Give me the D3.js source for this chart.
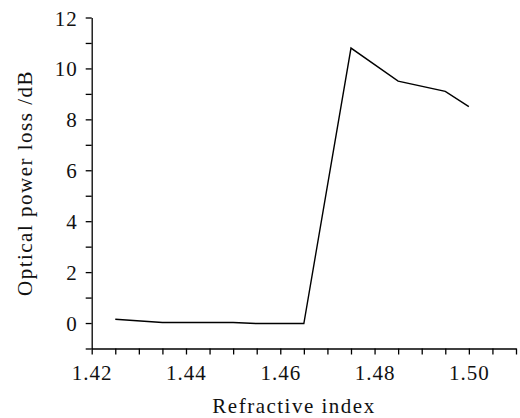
<!DOCTYPE html>
<html>
<head>
    <meta charset="utf-8">
    <style>
        body { margin: 0; background: white; }
        svg { display: block; font-family: 'Liberation Serif', 'Times New Roman', serif; }
        .axis path, .axis line { stroke: black; stroke-width: 1.3; }
        .axis text { fill: #111; letter-spacing: 1px; }
        .title { font-size: 21px; fill: #111; letter-spacing: 1.5px; }
    </style>
</head>
<body>
    <svg width="520" height="418"></svg>
</body>
<script src="https://d3js.org/d3.v7.min.js"></script>
<script>
    // values
    let refractiveIndex = [1.425, 1.435, 1.445, 1.450, 1.455, 1.465, 1.475, 1.485, 1.495, 1.500]
    let powerLoss = [0.15, 0.02, 0.02, 0.02, -0.02, -0.02, 10.8, 9.5, 9.1, 8.5]

    let xTicks = d3.range(0, 19).map(i => +(1.42 + i * 0.005).toFixed(3))
    let xLabels = [1.42, 1.44, 1.46, 1.48, 1.50]
    let yTicks = d3.range(-1, 13)
    let yLabels = [0, 2, 4, 6, 8, 10, 12]

    let serif = "'Liberation Serif', 'Times New Roman', serif"

    let svg = d3.select("svg")

    let x = d3.scaleLinear()
        .domain([1.42, 1.51])
        .range([91.7, 516])

    let y = d3.scaleLinear()
        .domain([-1, 12])
        .range([348.5, 17.5])

    // x axis
    let xAxis = svg.append("g")
        .attr("class", "axis")
        .attr("transform", "translate(0," + y(-1) + ")")
        .call(d3.axisBottom(x)
            .tickValues(xTicks)
            .tickSize(6)
            .tickPadding(11)
            .tickSizeOuter(0)
            .tickFormat(d => xLabels.some(v => Math.abs(v - d) < 1e-9) ? d3.format(".2f")(d) : ""))
        .attr("font-family", serif)
        .attr("font-size", 21)

    // y axis
    let yAxis = svg.append("g")
        .attr("class", "axis")
        .attr("transform", "translate(" + x(1.42) + ",0)")
        .call(d3.axisLeft(y)
            .tickValues(yTicks)
            .tickSize(6)
            .tickPadding(8)
            .tickSizeOuter(0)
            .tickFormat(d => yLabels.includes(d) ? d : ""))
        .attr("font-family", serif)
        .attr("font-size", 21)

    yAxis.selectAll("text").attr("dy", "0.36em")

    let line = d3.line()
        .x((d, i) => x(refractiveIndex[i]))
        .y(d => y(d))

    svg.append("path")
        .datum(powerLoss)
        .attr("d", line)
        .style("fill", "none")
        .style("stroke", "black")
        .style("stroke-width", 1.4)

    svg.append("text")
        .attr("class", "title")
        .attr("x", 294)
        .attr("y", 413)
        .attr("text-anchor", "middle")
        .text("Refractive index")

    svg.append("text")
        .attr("class", "title")
        .attr("transform", "translate(32,183) rotate(-90)")
        .attr("text-anchor", "middle")
        .text("Optical power loss /dB")
</script>
</html>
